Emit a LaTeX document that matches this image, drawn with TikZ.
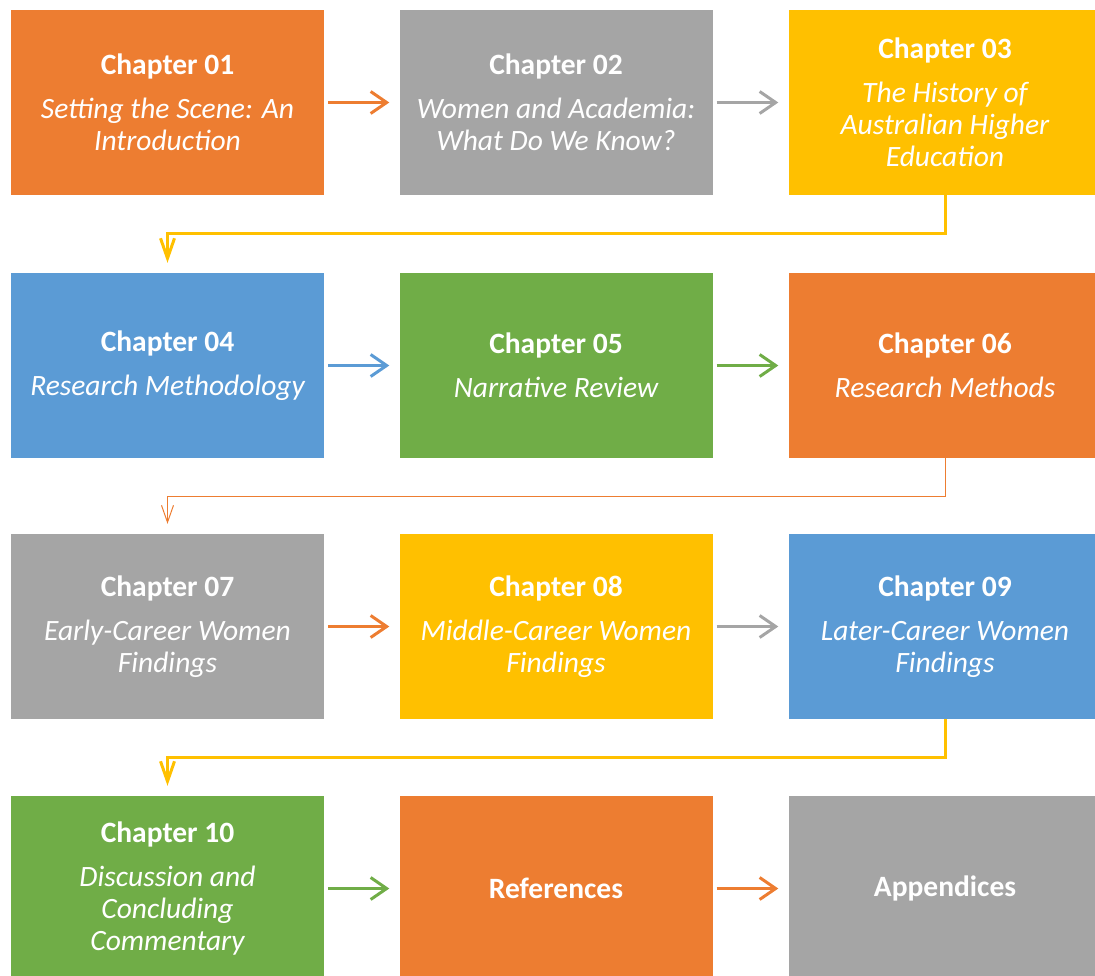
\documentclass[tikz,border=0pt]{standalone}
\usepackage{fontspec}
\setmainfont{Carlito}
\usetikzlibrary{arrows.meta}
\definecolor{cOrange}{HTML}{ED7D31}
\definecolor{cGray}{HTML}{A5A5A5}
\definecolor{cYellow}{HTML}{FFC000}
\definecolor{cBlue}{HTML}{5B9BD5}
\definecolor{cGreen}{HTML}{70AD47}
\tikzset{
  chapbox/.style={fill=#1, draw=none, minimum width=313pt, minimum height=185pt,
    inner sep=0pt, text=white, align=center,
    font=\fontsize{29.5}{32}\selectfont\itshape},
  flow/.style={draw=#1, line width=3pt, shorten <=4pt, shorten >=10pt,
    -{Straight Barb[length=16pt,width=22pt]}},
  turn/.style={draw=#1, line width=3pt, shorten >=10pt,
    -{Straight Barb[length=20pt,width=14pt]}},
  thinturn/.style={draw=#1, line width=1pt, shorten >=10pt,
    -{Straight Barb[length=17pt,width=12pt]}},
}
% bold upright heading line followed by italic description lines
\newcommand{\chap}[2]{\textbf{\upshape Chapter #1}\\[12pt]#2}
\newcommand{\heading}[1]{\textbf{\upshape #1}}
\begin{document}
\begin{tikzpicture}[x=1pt,y=-1pt]
\useasboundingbox (0,0) rectangle (1095,975);
\clip (0,0) rectangle (1095,975);
% row 1
\node[chapbox=cOrange] (c1) at (167.5,102.5) {\chap{01}{Setting the Scene: An\\ Introduction}};
\node[chapbox=cGray]   (c2) at (556,102.5)   {\chap{02}{Women and Academia:\\ What Do We Know?}};
\node[chapbox=cYellow] (c3) at (945,102.5)   {\chap{03}{The History of\\ Australian Higher\\ Education}};
% row 2
\node[chapbox=cBlue]   (c4) at (167.5,365.5) {\chap{04}{Research Methodology}};
\node[chapbox=cGreen]  (c5) at (556,365.5)   {\chap{05}{Narrative Review}};
\node[chapbox=cOrange] (c6) at (945,365.5)   {\chap{06}{Research Methods}};
% row 3
\node[chapbox=cGray]   (c7) at (167.5,626.5) {\chap{07}{Early-Career Women\\ Findings}};
\node[chapbox=cYellow] (c8) at (556,626.5)   {\chap{08}{Middle-Career Women\\ Findings}};
\node[chapbox=cBlue]   (c9) at (945,626.5)   {\chap{09}{Later-Career Women\\ Findings}};
% row 4
\node[chapbox=cGreen]  (c10) at (167.5,888.5) {\chap{10}{Discussion and\\ Concluding\\ Commentary}};
\node[chapbox=cOrange] (ref) at (556,888.5)   {\heading{References}};
\node[chapbox=cGray]   (app) at (945,888.5)   {\heading{Appendices}};
% arrows within rows
\draw[flow=cOrange] (c1) -- (c2);
\draw[flow=cGray]   (c2) -- (c3);
\draw[flow=cBlue]   (c4) -- (c5);
\draw[flow=cGreen]  (c5) -- (c6);
\draw[flow=cOrange] (c7) -- (c8);
\draw[flow=cGray]   (c8) -- (c9);
\draw[flow=cGreen]  (c10) -- (ref);
\draw[flow=cOrange] (ref) -- (app);
% links between rows
\draw[turn=cYellow] (c3.south) -- ++(0,38) -| (c4.north);
\draw[thinturn=cOrange] (c6.south) -- ++(0,38) -| (c7.north);
\draw[turn=cYellow] (c9.south) -- ++(0,38) -| (c10.north);
\end{tikzpicture}
\end{document}
